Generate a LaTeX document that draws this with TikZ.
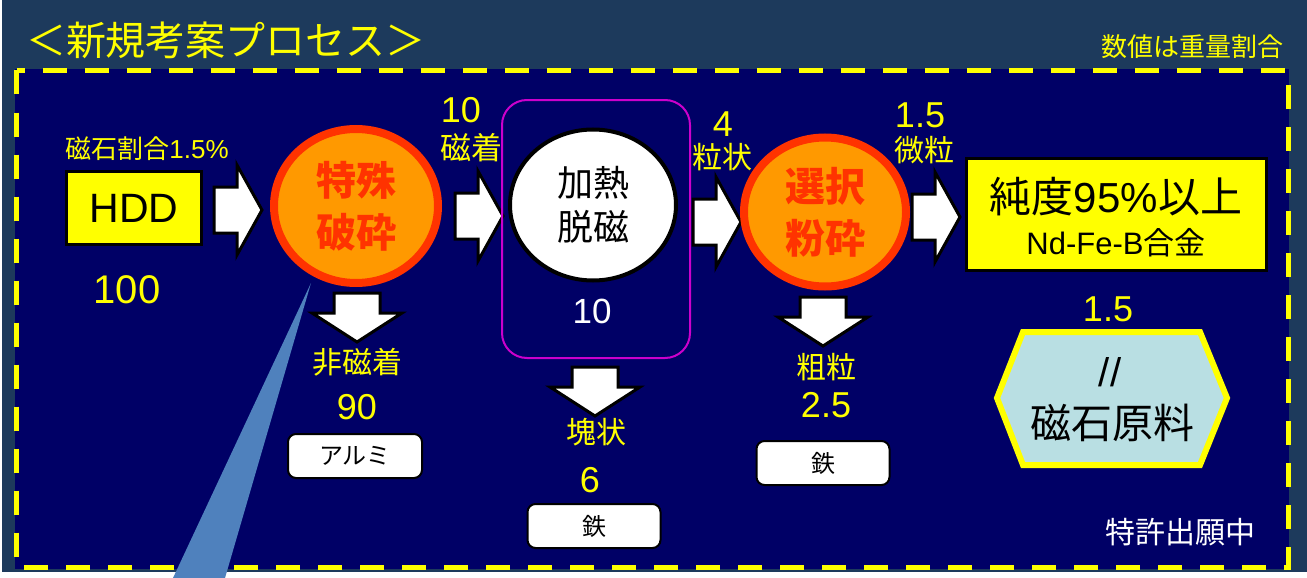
\documentclass[tikz,border=0pt]{standalone}
\usepackage{fontspec}
\setmainfont{Liberation Sans}
\newfontfamily\jp{Noto Sans CJK JP}
\usetikzlibrary{shapes.geometric}
\definecolor{slate}{HTML}{1D3A5C}
\definecolor{navy}{HTML}{000066}
\definecolor{yel}{HTML}{FFFF00}
\definecolor{orng}{HTML}{FF9900}
\definecolor{redo}{HTML}{FF3300}
\definecolor{hexfill}{HTML}{B9DFE3}
\definecolor{mag}{HTML}{CC00CC}
\definecolor{callout}{HTML}{4F81BD}
\newcommand{\fs}[1]{\fontsize{#1}{#1}\selectfont}
\tikzset{
  ytxt/.style={text=yel, inner sep=0pt, font=\jp},
  rblk/.pic={\draw[fill=white, line width=3pt, line join=miter]
      (0,-23) -- (23,-23) -- (23,-45) -- (48,0) -- (23,45) -- (23,23) -- (0,23) -- cycle;},
  dblk/.pic={\draw[fill=white, line width=3pt, line join=miter]
      (-23,0) -- (23,0) -- (23,20) -- (45,20) -- (0,49) -- (-45,20) -- (-23,20) -- cycle;},
  procA/.style={ellipse, draw=redo, fill=orng, line width=8pt, text=redo, align=center,
      font=\jp\bfseries\fontsize{40}{52}\selectfont, inner sep=0pt},
  procW/.style={ellipse, draw=black, fill=white, line width=4pt, text=black, align=center,
      font=\jp\fontsize{36}{44}\selectfont, inner sep=0pt},
  ybox/.style={rectangle, draw=black, fill=yel, line width=3pt, inner sep=0pt},
  wbox/.style={rectangle, rounded corners=8pt, draw=black, fill=white, line width=2pt,
      minimum width=133pt, minimum height=44pt, font=\jp\fs{24}, inner sep=0pt}
}
\begin{document}
\begin{tikzpicture}[x=1pt, y=-1pt]
\useasboundingbox (0,0) rectangle (1307,578);
\fill[white] (0,0) rectangle (1307,578);
\fill[slate] (2,0) rectangle (1307,572);
\fill[navy] (15,69) rectangle (1289,569);
\draw[yel, line width=5pt, dash pattern=on 24pt off 18pt] (16.5,70.5) rectangle (1288,567);

% title
\node[ytxt, font=\jp\fs{40}] (title) at (226,40) {＜新規考案プロセス＞};
\node[ytxt, font=\jp\fs{26}] (note) at (1192,47) {数値は重量割合};

% HDD
\node[ytxt, font=\fs{26}] (ratio) at (147,149) {{\jp 磁石割合}1.5\%};
\node[ybox, minimum width=135pt, minimum height=73pt, font=\fs{41}] (hdd) at (134,208) {HDD};
\node[ytxt, font=\fs{40}] (n100) at (127,290) {100};

% arrows
\pic at (214,210) {rblk};
\pic at (455,216) {rblk};
\pic at (693,222) {rblk};
\pic at (912,217) {rblk};

% process 1
\node[procA, minimum width=164pt, minimum height=154pt] (p1) at (356,206) {特殊\\破砕};

% labels between
\node[ytxt, font=\fs{36}] (l10) at (461,110) {10};
\node[ytxt, font=\jp\fs{31}] (lmag) at (471,148) {磁着};

% process 2 with frame
\node[rectangle, rounded corners=25pt, draw=mag, line width=2pt, minimum width=188pt, minimum height=258pt] (frame) at (596,229) {};
\node[procW, minimum width=166pt, minimum height=151pt] (p2) at (593,205) {加熱\\脱磁};
\node[text=white, inner sep=0pt, font=\fs{35}] (w10) at (592,311) {10};

\node[ytxt, font=\fs{36}] (l4) at (723,124) {4};
\node[ytxt, font=\jp\fs{30}] (lgr) at (722,157) {粒状};

% process 3
\node[procA, minimum width=162pt, minimum height=149pt] (p3) at (825,212) {選択\\粉砕};

\node[ytxt, font=\fs{36}] (l15) at (920,115) {1.5};
\node[ytxt, font=\jp\fs{30}] (lfine) at (924,150) {微粒};

% final
\node[ybox, minimum width=300pt, minimum height=112pt] (fin) at (1116,214) {};
\node[inner sep=0pt, font=\fs{42}] (fin1) at (1116,197) {{\jp 純度}95\%{\jp 以上}};
\node[inner sep=0pt, font=\fs{31}] (fin2) at (1116,243) {Nd-Fe-B{\jp 合金}};
\node[ytxt, font=\fs{36}] (r15) at (1108,309) {1.5};

% hexagon
\draw[fill=hexfill, draw=yel, line width=6pt, line join=miter]
  (1023,332) -- (1200,332) -- (1227,398) -- (1200,465) -- (1023,465) -- (997,398) -- cycle;
\node[inner sep=0pt, font=\fs{40}] (slash) at (1110,372) {//};
\node[inner sep=0pt, font=\jp\fs{41}] (raw) at (1112,423) {磁石原料};

% down outputs
\pic at (357,293) {dblk};
\node[ytxt, font=\jp\fs{30}] (o1) at (357,362) {非磁着};
\node[ytxt, font=\fs{36}] (o1n) at (357,407) {90};
\node[wbox, minimum width=134pt] (b1) at (355,456) {アルミ};

\pic at (595,367) {dblk};
\node[ytxt, font=\jp\fs{30}] (o2) at (596,432) {塊状};
\node[ytxt, font=\fs{36}] (o2n) at (590,480) {6};
\node[wbox] (b2) at (594,526) {鉄};

\pic at (823,297) {dblk};
\node[ytxt, font=\jp\fs{30}] (o3) at (826,367) {粗粒};
\node[ytxt, font=\fs{36}] (o3n) at (826,405) {2.5};
\node[wbox] (b3) at (823,463) {鉄};

\node[text=white, inner sep=0pt, font=\jp\fs{30}] (pat) at (1180,532) {特許出願中};

% callout
\fill[callout] (311,283) -- (173,578) -- (225,578) -- cycle;
\end{tikzpicture}
\end{document}
